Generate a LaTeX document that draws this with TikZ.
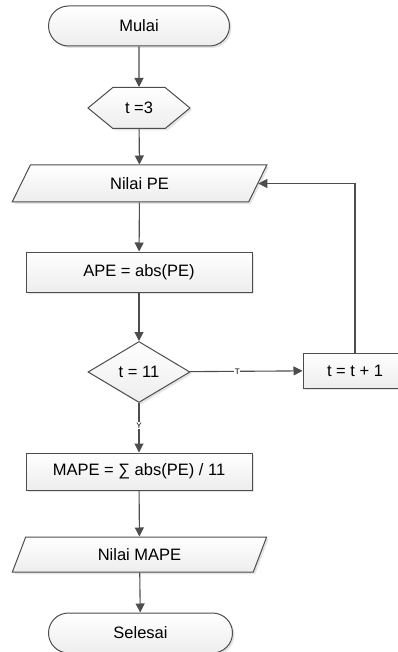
\documentclass[tikz,border=0pt]{standalone}
\usepackage{fontspec}
\setmainfont{Liberation Sans}
\usetikzlibrary{shapes.geometric,shapes.symbols,arrows.meta,shadows}
\definecolor{edge}{HTML}{4D4D4D}
\begin{document}
\begin{tikzpicture}[x=1pt,y=-1pt,
  base/.style={draw=edge, line width=1pt, top color=white, bottom color=gray!14,
    drop shadow={shadow xshift=2pt, shadow yshift=-2pt, fill=gray!35, opacity=0.6},
    font=\fontsize{16.5}{19}\selectfont, inner sep=0pt},
  term/.style={base, rectangle, rounded corners=20pt},
  procbox/.style={base, rectangle},
  iobox/.style={base, trapezium, trapezium left angle=68, trapezium right angle=112, trapezium stretches=true},
  prep/.style={base, signal, signal to=east and west, signal pointer angle=79},
  decide/.style={base, diamond},
  conn/.style={draw=edge, line width=1.1pt, -{Triangle[length=9pt,width=9pt]}},
  lbl/.style={font=\fontsize{8}{9}\selectfont, fill=white, inner sep=0.5pt}
]
\useasboundingbox (0,0) rectangle (397,652);
\node[term, minimum width=181pt, minimum height=40pt] (start) at (139,26) {Mulai};
\node[prep, minimum width=102pt, minimum height=41pt] (init) at (139,108) {t =3};
\node[iobox, minimum width=255pt, minimum height=37pt] (pe) at (139.5,183.5) {Nilai PE};
\node[procbox, minimum width=226pt, minimum height=40pt] (ape) at (139,272) {APE = abs(PE)};
\node[decide, minimum width=102pt, minimum height=61pt] (dec) at (139,372) {t = 11};
\node[procbox, minimum width=104pt, minimum height=35pt] (inc) at (355,370.5) {t = t + 1};
\node[procbox, minimum width=226pt, minimum height=37pt] (mape) at (139,471.5) {MAPE = ∑ abs(PE) / 11};
\node[iobox, minimum width=255pt, minimum height=35pt] (out) at (139.5,554.5) {Nilai MAPE};
\node[term, minimum width=184pt, minimum height=40pt] (stop) at (140.5,633) {Selesai};

\draw[conn] (start) -- (init);
\draw[conn] (init) -- (pe);
\draw[conn] (pe) -- (ape);
\draw[conn] (ape) -- (dec);
\draw[conn] (dec) -- node[lbl, pos=0.42] {T} (inc);
\draw[conn] (dec) -- node[lbl, pos=0.45] {Y} (mape);
\draw[conn] (inc.north) |- (pe.east);
\draw[conn] (mape) -- (out);
\draw[conn] (out) -- (stop);
\end{tikzpicture}
\end{document}
